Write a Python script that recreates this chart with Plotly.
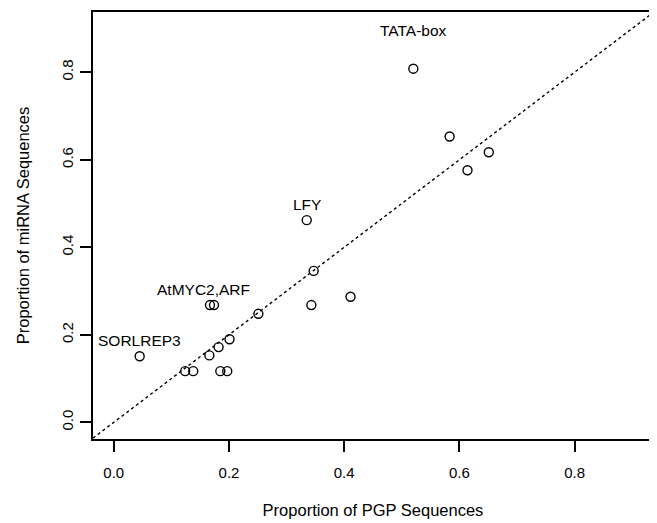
import plotly.graph_objects as go

# Data
pgp = [0.045, 0.124, 0.138, 0.166, 0.167, 0.174, 0.182, 0.185, 0.197, 0.201,
       0.251, 0.335, 0.343, 0.347, 0.411, 0.520, 0.583, 0.614, 0.651]
mirna = [0.151, 0.117, 0.117, 0.153, 0.268, 0.268, 0.172, 0.117, 0.117, 0.190,
         0.248, 0.462, 0.268, 0.346, 0.287, 0.808, 0.653, 0.576, 0.617]

label_names = ["SORLREP3", "AtMYC2,ARF", "LFY", "TATA-box"]
label_x = [0.045, 0.167, 0.335, 0.520]
label_y = [0.151, 0.268, 0.462, 0.808]

tick_vals = [0.0, 0.2, 0.4, 0.6, 0.8]
tick_text = ["0.0", "0.2", "0.4", "0.6", "0.8"]

x_range = [-0.036, 0.936]
y_range = [-0.038, 0.9375]

FONT = "Liberation Sans, Arial, Helvetica, sans-serif"

fig = go.Figure()

# y = x reference line
fig.add_trace(go.Scatter(
    x=x_range, y=x_range, mode="lines",
    line=dict(color="black", width=1.4, dash="dot"),
    hoverinfo="skip", showlegend=False,
))

fig.add_trace(go.Scatter(
    x=pgp, y=mirna, mode="markers",
    marker=dict(symbol="circle-open", size=9, color="black", line=dict(width=1.4, color="black")),
    showlegend=False,
))

label_yshift = {"TATA-box": 38}
label_xshift = {"AtMYC2,ARF": -6}
for name, lx, ly in zip(label_names, label_x, label_y):
    fig.add_annotation(
        x=lx, y=ly, text=name, showarrow=False,
        yshift=label_yshift.get(name, 16), xshift=label_xshift.get(name, 0),
        font=dict(family=FONT, size=15.5, color="black"),
    )

axis_common = dict(
    showline=True, linecolor="black", linewidth=1.5, mirror=True,
    ticks="outside", ticklen=11, tickwidth=1.5, tickcolor="black",
    showgrid=False, zeroline=False,
    tickvals=tick_vals, ticktext=tick_text,
    tickfont=dict(family=FONT, size=15, color="black"),
    title_font=dict(family=FONT, size=16.5, color="black"),
)

fig.update_xaxes(range=x_range, title_text="Proportion of PGP Sequences",
                 title_standoff=25, ticklabelstandoff=8, **axis_common)
fig.update_yaxes(range=y_range, title_text="Proportion of miRNA Sequences",
                 tickangle=-90, title_standoff=25, ticklabelstandoff=1, **axis_common)

# page body has an 8px default margin, so the figure is sized to end at 657x523
fig.update_layout(
    width=649, height=515,
    margin=dict(l=85, r=3, t=2, b=84),
    plot_bgcolor="white", paper_bgcolor="white",
    font=dict(family=FONT, size=15, color="black"),
)

fig.write_html("out.html")
